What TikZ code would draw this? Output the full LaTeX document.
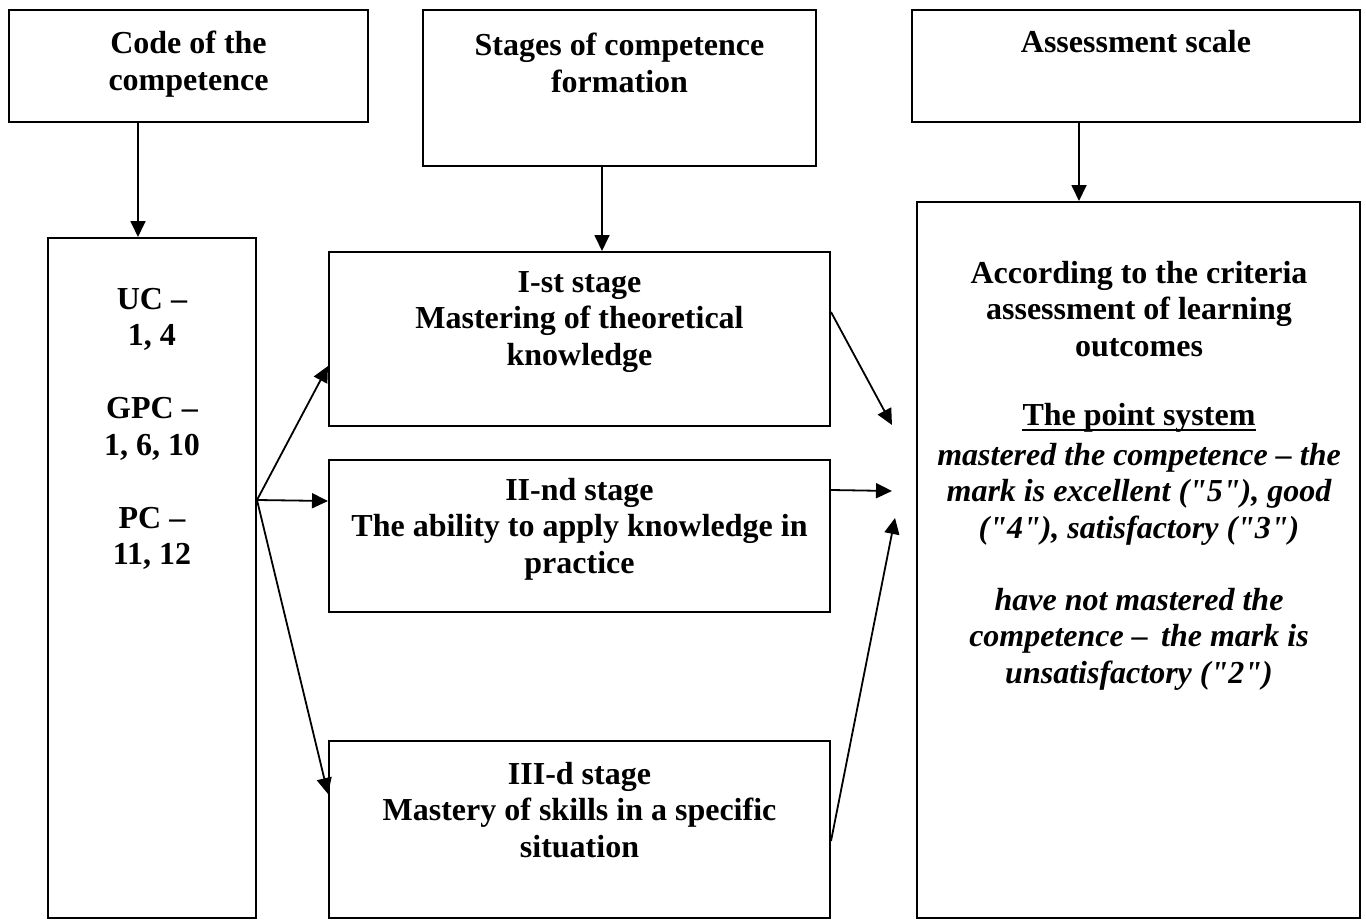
\documentclass[tikz,border=0pt]{standalone}
\usepackage{fontspec}
\setmainfont{Liberation Serif}
\usetikzlibrary{arrows.meta,calc}
\newcommand{\qd}{\textquotedbl}
\tikzset{
  box/.style={draw, line width=1pt, inner sep=0pt, fill=white},
  txt/.style={align=center, inner sep=0pt, font=\bfseries\fontsize{16}{18.25}\selectfont},
  itxt/.style={align=center, inner sep=0pt, font=\bfseries\itshape\fontsize{16}{18.25}\selectfont},
  arr/.style={line width=0.9pt, -{Triangle[length=8pt,width=7.5pt]}},
}
\begin{document}
\begin{tikzpicture}[x=0.5pt,y=-0.5pt]
\useasboundingbox (0,0) rectangle (1366,921);
% boxes
\node[box, minimum width=179.5pt, minimum height=56pt] (A) at (188.5,66) {};
\node[box, minimum width=196.5pt, minimum height=78pt] (B) at (619.5,88) {};
\node[box, minimum width=224pt, minimum height=56pt] (C) at (1136,66) {};
\node[box, minimum width=104pt, minimum height=340pt] (D) at (152,578) {};
\node[box, minimum width=250.5pt, minimum height=87pt] (E) at (579.5,339) {};
\node[box, minimum width=250.5pt, minimum height=76pt] (F) at (579.5,536) {};
\node[box, minimum width=250.5pt, minimum height=88.5pt] (G) at (579.5,829.5) {};
\node[box, minimum width=221.5pt, minimum height=358pt] (H) at (1138.5,560) {};
% texts
\node[txt] (tA) at (188.5,64) {Code of the\\competence};
\node[txt] (tB) at (619.5,63) {Stages of competence\\formation};
\node[txt] (tC) at (1136,42) {Assessment scale};
\node[txt] (tD) at (152,429) {UC –\\1, 4\\[18.25pt]GPC –\\1, 6, 10\\[18.25pt]PC –\\11, 12};
\node[txt] (tE) at (579.5,322) {I-st stage\\Mastering of theoretical\\knowledge};
\node[txt] (tF) at (579.5,529) {II-nd stage\\The ability to apply knowledge in\\practice};
\node[txt] (tG) at (579.5,810) {III-d stage\\Mastery of skills in a specific\\situation};
\node[txt] (tH1) at (1139,309) {According to the criteria\\assessment of learning\\outcomes};
\node[txt] (tP) at (1139,418) {The point system};
\draw[line width=1.4pt] ($(tP.south west)+(0,-3)$) -- ($(tP.south east)+(0,-3)$);
\node[itxt] (tH2) at (1139,494) {mastered the competence – the\\mark is excellent (\qd5\qd), good\\(\qd4\qd), satisfactory (\qd3\qd)};
\node[itxt] (tH3) at (1139,639) {have not mastered the\\competence –\, the mark is\\unsatisfactory (\qd2\qd)};
% connectors
\coordinate (a1) at (138,0);
\coordinate (b1) at (602,0);
\coordinate (c1) at (1079,0);
\draw[arr] (A.south -| a1) -- (D.north -| a1);
\draw[arr] (B.south -| b1) -- (E.north -| b1);
\draw[arr] (C.south -| c1) -- (H.north -| c1);
\coordinate (d0) at ($(D.north east)+(0,263)$);
\draw[arr] (d0) -- ($(E.north west)+(0,115)$);
\draw[arr] (d0) -- ($(F.north west)+(0,42)$);
\draw[arr] (d0) -- ($(G.north west)+(0,54)$);
\coordinate (h1) at (892,425);
\coordinate (h2) at (892,491);
\coordinate (h3) at (895,518);
\draw[arr] ($(E.north east)+(0,61)$) -- (h1);
\draw[arr] ($(F.north east)+(0,31)$) -- (h2);
\draw[arr] ($(G.north east)+(0,101)$) -- (h3);
\end{tikzpicture}
\end{document}
